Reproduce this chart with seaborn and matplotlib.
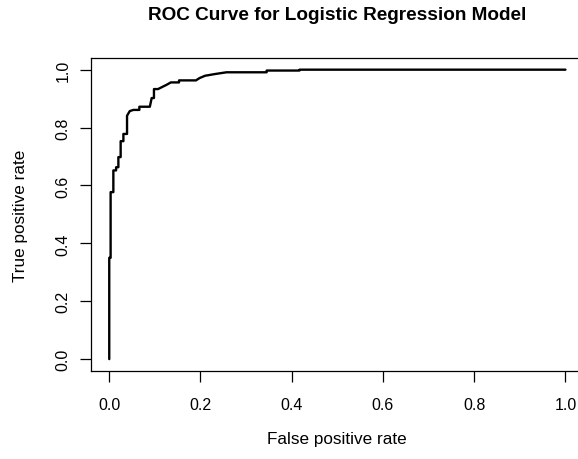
import matplotlib
matplotlib.use("Agg")
import matplotlib.pyplot as plt
import seaborn as sns
import pandas as pd

# ROC curve points
fpr = [0.0, 0.0, 0.003, 0.003, 0.009, 0.009, 0.015, 0.015, 0.020, 0.020,
       0.025, 0.025, 0.031, 0.031, 0.039, 0.039, 0.045, 0.053, 0.066, 0.066,
       0.089, 0.093, 0.098, 0.098, 0.107, 0.117, 0.126, 0.135, 0.153, 0.153,
       0.190, 0.198, 0.210, 0.232, 0.257, 0.345, 0.345, 0.417, 0.417, 1.0]
tpr = [0.0, 0.350, 0.350, 0.577, 0.577, 0.652, 0.652, 0.663, 0.663, 0.698,
       0.698, 0.753, 0.753, 0.778, 0.778, 0.841, 0.857, 0.861, 0.861, 0.872,
       0.872, 0.902, 0.902, 0.933, 0.933, 0.941, 0.948, 0.956, 0.956, 0.963,
       0.963, 0.971, 0.979, 0.985, 0.991, 0.991, 0.997, 0.997, 1.0, 1.0]
x_ticks = [0.0, 0.2, 0.4, 0.6, 0.8, 1.0]
y_ticks = [0.0, 0.2, 0.4, 0.6, 0.8, 1.0]
tick_labels = ["0.0", "0.2", "0.4", "0.6", "0.8", "1.0"]

title = "ROC Curve for Logistic Regression Model"
xlabel = "False positive rate"
ylabel = "True positive rate"

sns.set_theme(style="white")
plt.rcParams['font.family'] = ['Liberation Sans', 'DejaVu Sans']

W, H = 578, 460
fig = plt.figure(figsize=(W / 100, H / 100), dpi=100)
left, right, top, bottom = 91.0, 583.7, 59.1, 371.7
ax = fig.add_axes([left / W, 1 - bottom / H, (right - left) / W, (bottom - top) / H])

df = pd.DataFrame({"fpr": fpr, "tpr": tpr})
sns.lineplot(data=df, x="fpr", y="tpr", sort=False, estimator=None,
             color="black", linewidth=1.7, ax=ax)

ax.set_xlim(-0.04, 1.04)
ax.set_ylim(-0.04, 1.04)
ax.set_xticks(x_ticks)
ax.set_xticklabels(tick_labels)
ax.set_yticks(y_ticks)
ax.set_yticklabels(tick_labels, rotation=90, va="center")
ax.tick_params(axis="both", which="major", direction="out", length=7.7,
               width=0.9, color="black", labelsize=11.5, labelcolor="black",
               bottom=True, left=True)
ax.tick_params(axis="x", pad=11)
ax.tick_params(axis="y", pad=7)
ax.set_xlabel("")
ax.set_ylabel("")
for s in ax.spines.values():
    s.set_color("black")
    s.set_linewidth(0.9)
    s.set_visible(True)

fig.text(337.3 / W, 1 - 15 / H, title, ha="center", va="center",
         fontsize=13.7, fontweight="bold", color="black")
fig.text(337.3 / W, 1 - 440 / H, xlabel, ha="center", va="center",
         fontsize=12.3, color="black")
fig.text(21 / W, 1 - 215.4 / H, ylabel, ha="center", va="center",
         rotation=90, fontsize=12.3, color="black")

fig.savefig("out.png", dpi=100)
